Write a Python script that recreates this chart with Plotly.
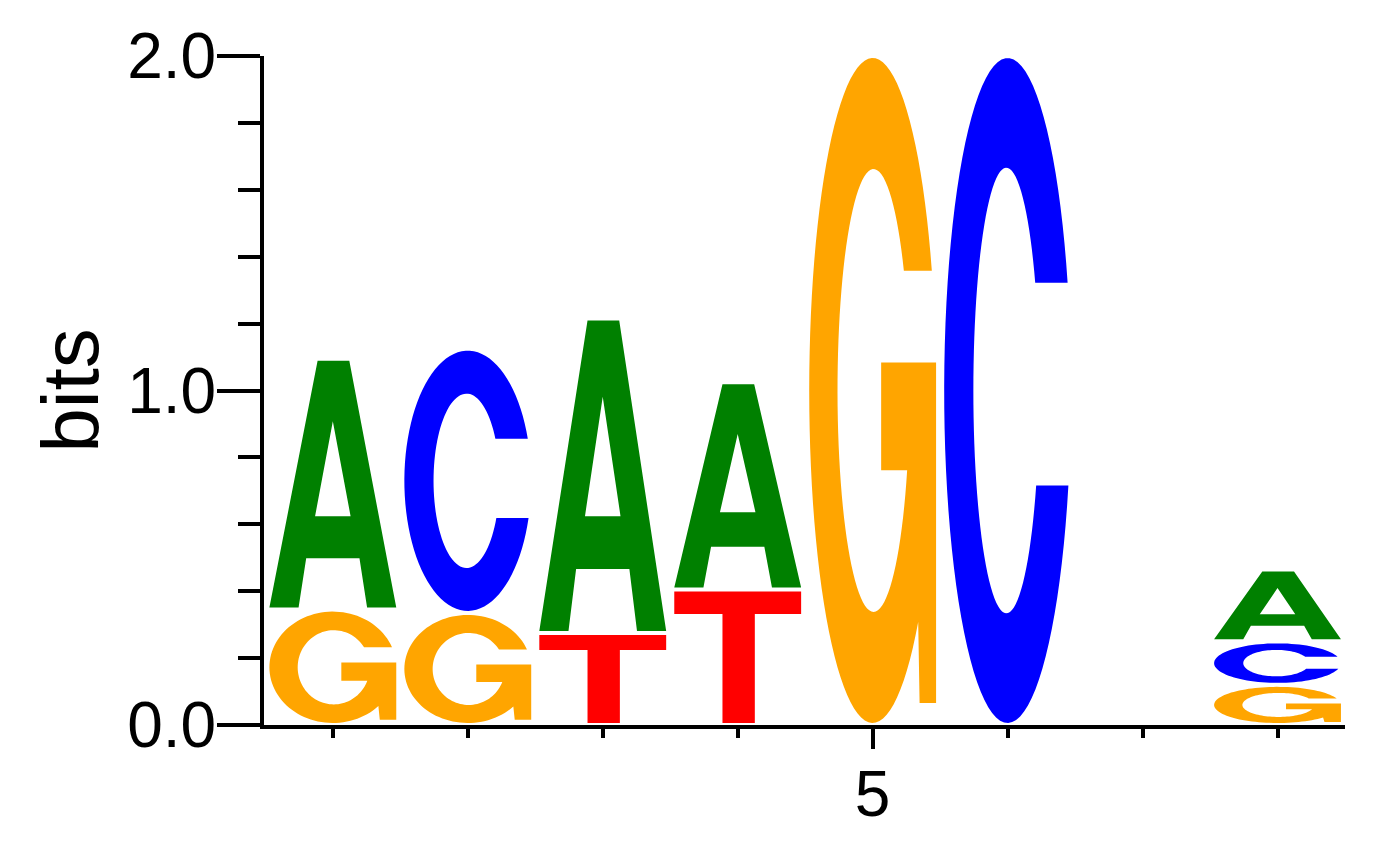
import math
import numpy as np
import plotly.graph_objects as go

# posiciones del logo y altura de cada letra (bits)
positions = [1, 2, 3, 4, 5, 6, 7, 8]
bits_A = [0.75, 0.0, 0.94, 0.62, 0.0, 0.0, 0.0, 0.215]
bits_C = [0.0, 0.79, 0.0, 0.0, 0.0, 2.0, 0.0, 0.13]
bits_G = [0.345, 0.335, 0.0, 0.0, 2.0, 0.0, 0.0, 0.12]
bits_T = [0.0, 0.0, 0.275, 0.405, 0.0, 0.0, 0.0, 0.0]
x_major = [5]
x_major_text = ["5"]
x_minor = [1, 2, 3, 4, 5, 6, 7, 8]

colores = {"A": "#008000", "C": "#0000FF", "G": "#FFA500", "T": "#FF0000"}
alturas = {"A": bits_A, "C": bits_C, "G": bits_G, "T": bits_T}


def arco(cx, cy, rx, ry, a0, a1, n=60):
    t = np.linspace(math.radians(a0), math.radians(a1), n)
    return list(zip(cx + rx * np.cos(t), cy + ry * np.sin(t)))


# contornos de cada letra en un cuadro unitario (0..1, 0..1)
def glifo(letra):
    if letra == "A":
        fuera = [(0, 0), (0.38, 1), (0.63, 1), (1, 0), (0.77, 0), (0.71, 0.2),
                 (0.29, 0.2), (0.23, 0)]
        hueco = [(0.36, 0.37), (0.5, 0.755), (0.64, 0.37)]
        return [fuera, hueco]
    if letra == "T":
        return [[(0, 1), (1, 1), (1, 0.83), (0.635, 0.83), (0.635, 0),
                 (0.38, 0), (0.38, 0.83), (0, 0.83)]]
    if letra == "C":
        a_sup = math.degrees(math.asin(0.162 / 0.5))
        a_inf = math.degrees(math.asin(0.143 / 0.5))
        b_sup = math.degrees(math.asin(0.162 / 0.335))
        b_inf = math.degrees(math.asin(0.143 / 0.335))
        pts = arco(0.5, 0.5, 0.5, 0.5, a_sup, 360 - a_inf, 90)
        pts += arco(0.49, 0.5, 0.26, 0.335, 360 - b_inf, b_sup, 90)
        return [pts]
    # G
    a_sup = math.degrees(math.asin(0.18 / 0.5))
    a_inf = math.degrees(math.asin(0.348 / 0.5))
    b_bar = math.degrees(math.asin(0.12 / 0.333))
    b_sup = math.degrees(math.asin(0.18 / 0.333))
    pts = arco(0.5, 0.5, 0.5, 0.5, a_sup, 360 - a_inf, 90)
    pts += [(0.87, 0.03), (1.0, 0.03), (1.0, 0.542), (0.567, 0.542), (0.567, 0.38)]
    pts += arco(0.507, 0.5, 0.284, 0.333, -b_bar, -360 + b_sup, 90)
    return [pts]


def path_letra(letra, x, y0, h):
    ancho = 0.47
    pad = 0.006
    yb, yt = y0 + pad, y0 + h - pad
    s = ""
    for cont in glifo(letra):
        for k, (u, v) in enumerate(cont):
            px = x - ancho + 2 * ancho * u
            py = yb + (yt - yb) * v
            s += ("M" if k == 0 else "L") + f"{px:.4f},{py:.4f} "
        s += "Z "
    return s


shapes = []
for i, pos in enumerate(positions):
    pila = sorted([(alturas[l][i], l) for l in "ACGT" if alturas[l][i] > 0])
    base = 0.0
    for h, l in pila:
        shapes.append(dict(type="path", xref="x", yref="y", path=path_letra(l, pos, base, h),
                           fillcolor=colores[l], line=dict(width=0), fillrule="evenodd",
                           layer="above"))
        base += h

fig = go.Figure()
fig.add_trace(go.Scatter(x=positions, y=[0] * len(positions), mode="markers",
                         marker=dict(opacity=0), hoverinfo="skip", showlegend=False))

fig.update_layout(
    width=1392, height=842,
    margin=dict(l=256, r=55, t=42, b=125),
    plot_bgcolor="white", paper_bgcolor="white",
    font=dict(family="Liberation Sans, Arial, sans-serif", color="black"),
    shapes=shapes,
    showlegend=False,
)
fig.update_xaxes(
    range=[0.49, 8.5], showgrid=False, zeroline=False,
    showline=True, linecolor="black", linewidth=4,
    tickmode="array", tickvals=x_major, ticktext=x_major_text,
    ticks="outside", ticklen=20, tickwidth=4, tickcolor="black",
    minor=dict(ticks="outside", tickmode="array", tickvals=x_minor, ticklen=9,
               tickwidth=4, tickcolor="black"),
    tickfont=dict(size=64), ticklabelstandoff=-10,
)
fig.update_yaxes(
    range=[0, 2], showgrid=False, zeroline=False,
    showline=True, linecolor="black", linewidth=4,
    tickmode="linear", tick0=0, dtick=1, tickformat=".1f",
    ticks="outside", ticklen=43, tickwidth=4, tickcolor="black",
    tickfont=dict(size=64), ticklabelstandoff=-12,
    minor=dict(ticks="outside", tick0=0, dtick=0.2, ticklen=22, tickwidth=4, tickcolor="black"),
    title=dict(text="bits", font=dict(size=80), standoff=3),
)

fig.write_html("out.html")
